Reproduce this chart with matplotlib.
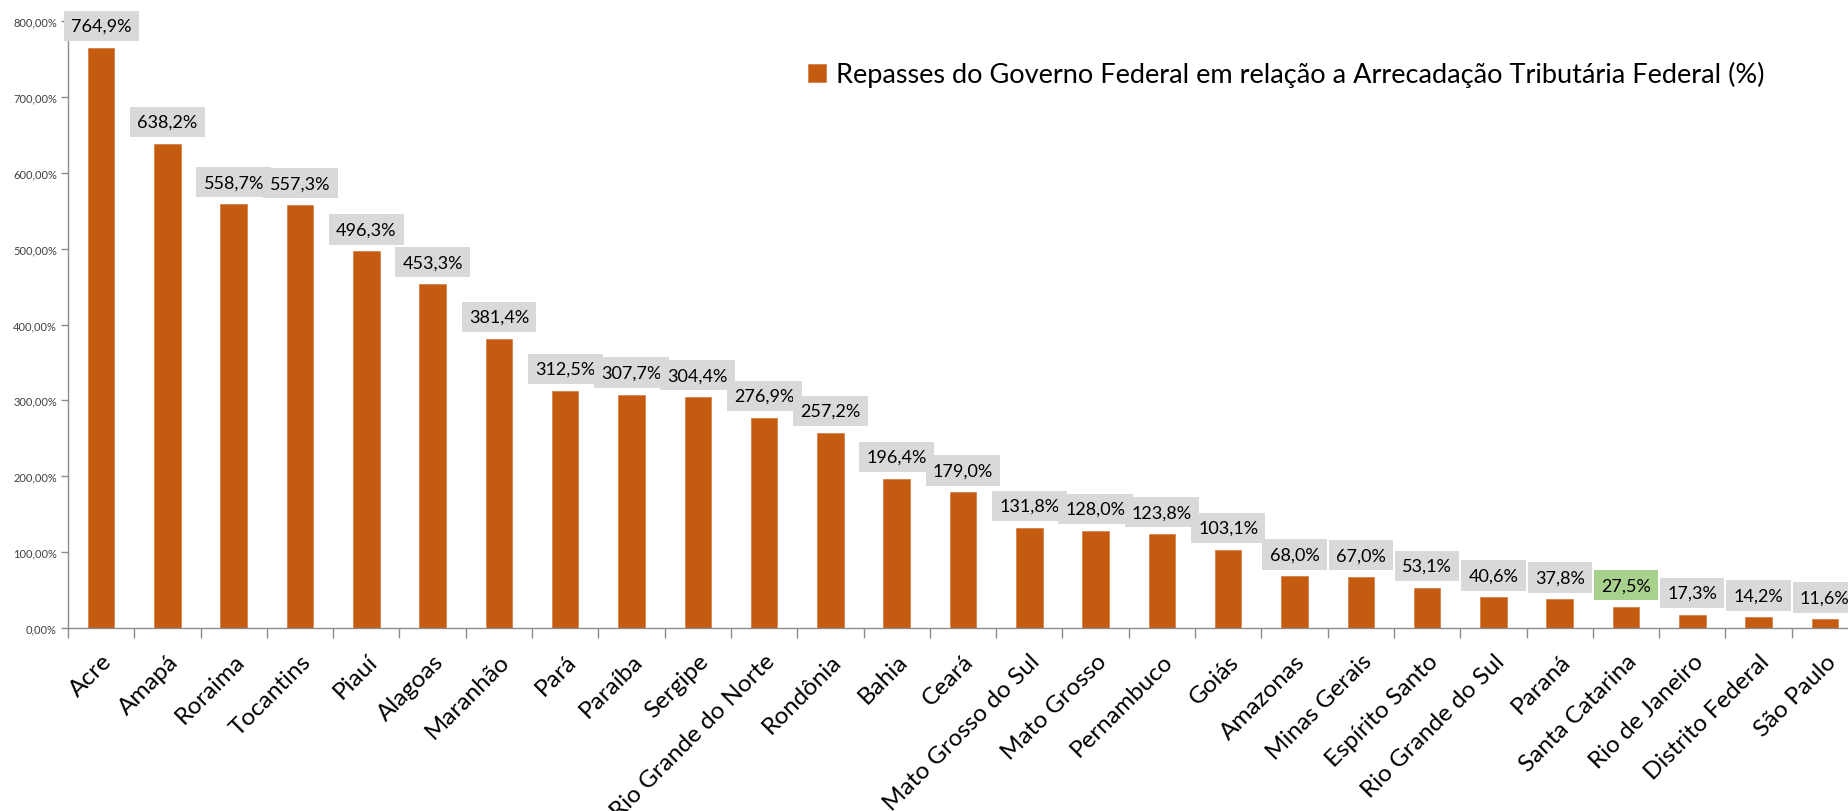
import matplotlib
matplotlib.use("Agg")
import matplotlib.pyplot as plt
from matplotlib.ticker import FuncFormatter, FixedLocator
import numpy as np

states = ["Acre", "Amapá", "Roraima", "Tocantins", "Piauí", "Alagoas", "Maranhão",
          "Pará", "Paraíba", "Sergipe", "Rio Grande do Norte", "Rondônia", "Bahia",
          "Ceará", "Mato Grosso do Sul", "Mato Grosso", "Pernambuco", "Goiás",
          "Amazonas", "Minas Gerais", "Espírito Santo", "Rio Grande do Sul", "Paraná",
          "Santa Catarina", "Rio de Janeiro", "Distrito Federal", "São Paulo"]
values = [764.9, 638.2, 558.7, 557.3, 496.3, 453.3, 381.4, 312.5, 307.7, 304.4,
          276.9, 257.2, 196.4, 179.0, 131.8, 128.0, 123.8, 103.1, 68.0, 67.0,
          53.1, 40.6, 37.8, 27.5, 17.3, 14.2, 11.6]
highlight = "Santa Catarina"
legend_label = "Repasses do Governo Federal em relação a Arrecadação Tributária Federal (%)"

plt.rcParams['font.family'] = ['Lato', 'DejaVu Sans']

W, H = 1848, 812
fig = plt.figure(figsize=(W / 100, H / 100), dpi=100)
left, right, bottom, top = 68, 1858, 812 - 629, 812 - 22
ax = fig.add_axes([left / W, bottom / H, (right - left) / W, (top - bottom) / H])

bar_color = "#C55A11"
x = np.arange(len(states))
bars = ax.bar(x, values, width=0.40, color=bar_color, edgecolor="#D9824A",
              linewidth=0.6, label=legend_label, zorder=2)

ax.set_xlim(-0.5, len(states) - 0.5)
ax.set_ylim(0, 800)
ax.set_yticks(np.arange(0, 801, 100))
ax.yaxis.set_major_formatter(FuncFormatter(lambda v, p: f"{v:.2f}".replace(".", ",") + "%"))
ax.tick_params(axis='y', labelsize=8, labelcolor="#404040", color="#8C8C8C",
               length=5, width=1, direction='out', pad=3)

ax.set_xticks(x)
ax.set_xticklabels(states, rotation=45, ha='right', va='top', rotation_mode='anchor',
                   fontsize=17.5, color="#000000")
ax.tick_params(axis='x', which='major', length=0, pad=16)
ax.xaxis.set_minor_locator(FixedLocator(np.arange(-0.5, len(states), 1.0)))
ax.tick_params(axis='x', which='minor', length=7, width=1, color="#8C8C8C", direction='out')

for s in ['top', 'right']:
    ax.spines[s].set_visible(False)
for s in ['left', 'bottom']:
    ax.spines[s].set_color("#8C8C8C")
    ax.spines[s].set_linewidth(1)

for xi, v, name in zip(x, values, states):
    face = "#A9D18E" if name == highlight else "#D9D9D9"
    lbl = f"{v:.1f}".replace(".", ",") + "%"
    ax.annotate(lbl, xy=(xi, v), xytext=(0, 10), textcoords='offset points',
                ha='center', va='bottom', fontsize=13, color="#000000",
                bbox=dict(boxstyle='square,pad=0.4', facecolor=face, edgecolor='none'),
                annotation_clip=False, zorder=3)

leg = ax.legend(loc='center left', bbox_to_anchor=(808 / W, 1 - 75 / H),
                bbox_transform=fig.transFigure, frameon=False, fontsize=19.5,
                handlelength=0.65, handleheight=0.65, handletextpad=0.4, borderpad=0,
                borderaxespad=0)

fig.savefig("out.png", dpi=100, facecolor="white")
